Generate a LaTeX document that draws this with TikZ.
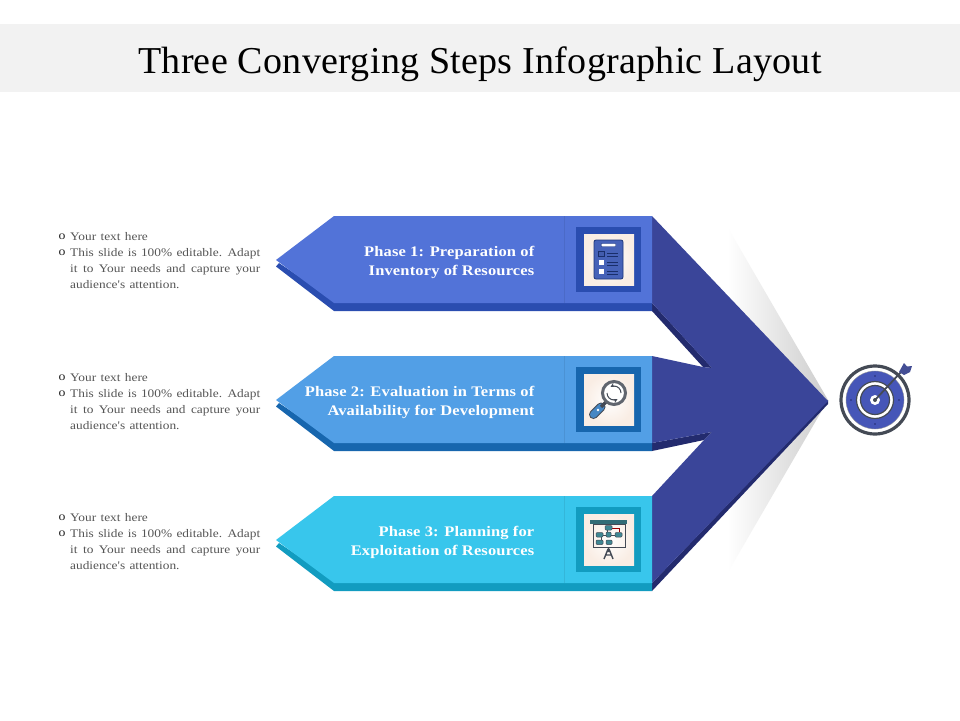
\documentclass[tikz,border=0pt]{standalone}
\usepackage{fontspec}
\setmainfont{Liberation Serif}
\newfontfamily\titlefont[LetterSpace=.8]{Liberation Serif}
\newfontfamily\phasefont[FakeStretch=1.13,LetterSpace=1,BoldFont={Liberation Serif Bold}]{Liberation Serif Bold}
\newfontfamily\bodyfont[FakeStretch=1.15,WordSpace=1.3]{Liberation Serif}
\definecolor{bandgray}{HTML}{F2F2F2}
\definecolor{bodygray}{HTML}{555555}
\definecolor{oneface}{HTML}{5273D8}
\definecolor{oneside}{HTML}{2A4DB0}
\definecolor{twoface}{HTML}{529FE6}
\definecolor{twoside}{HTML}{1766AE}
\definecolor{threeface}{HTML}{38C6EC}
\definecolor{threeside}{HTML}{129CC0}
\definecolor{bigface}{HTML}{3A4599}
\definecolor{bigside}{HTML}{232B6E}
\definecolor{cream}{HTML}{F9EDE4}
\definecolor{icondark}{HTML}{444A55}
\definecolor{targetblue}{HTML}{4656B8}
\definecolor{boardteal}{HTML}{3F8793}
\begin{document}
\begin{tikzpicture}
            [x=1pt,y=-1pt,
            Title/.style={font=\titlefont\fontsize{38}{38}\selectfont,text=black,inner sep=0pt},
            Phase/.style={font=\phasefont\fontsize{14.6}{19}\selectfont,text=white,align=right,anchor=east,inner sep=0pt},
            Body/.style={font=\bodyfont\fontsize{11.6}{16}\selectfont,text=bodygray,text width=190pt,align=justify,anchor=north west,inner sep=0pt},
            Bullet/.style={font=\bodyfont\fontsize{12}{16}\selectfont,text=black!85,inner sep=0pt},
            Board/.style={fill=boardteal,draw=icondark,line width=.5pt,rounded corners=1pt}];
            \useasboundingbox (0,0) rectangle (960,720);
            \fill[white] (0,0) rectangle (960,720);
            % title band
            \fill[bandgray] (0,24) rectangle (960,92);
            \node[Title] (title) at (480,64) {Three Converging Steps Infographic Layout};
            % soft shadow behind the big chevron
            \shade[left color=white,right color=black!20] (728,228)--(828,400)--(728,572)--cycle;
            % big chevron, side then face
            \fill[bigside] (652,303)--(712,368)--(703,367)--(652,311)--cycle;
            \fill[bigside] (652,443)--(712,432)--(704,440)--(652,451)--cycle;
            \fill[bigside] (652,583)--(652,591)--(828,404)--(828,400)--cycle;
            \fill[bigface] (652,216)--(828,401)--(652,583)--(652,496)--(704,440)--(712,432)--(652,443)
                --(652,356)--(703,367)--(712,368)--(652,303)--cycle;
            % phase 1
            \fill[oneside] (279,263)--(276,266.5)--(334,311)--(652,311)--(652,300)--(334,300)--cycle;
            \fill[oneface] (276,260)--(334,216)--(652,216)--(652,303)--(334,303)--cycle;
            \draw[oneface!92!black,thin] (564,216)--(564,303);
            \fill[oneside] (576,227) rectangle (641,292);
            \shade[inner color=white,outer color=cream] (584,234) rectangle (634,285);
            % phase 2
            \fill[twoside] (279,403)--(276,406.5)--(334,451)--(652,451)--(652,440)--(334,440)--cycle;
            \fill[twoface] (276,400)--(334,356)--(652,356)--(652,443)--(334,443)--cycle;
            \draw[twoface!92!black,thin] (564,356)--(564,443);
            \fill[twoside] (576,367) rectangle (641,432);
            \shade[inner color=white,outer color=cream] (584,374) rectangle (634,425);
            % phase 3
            \fill[threeside] (279,543)--(276,546.5)--(334,591)--(652,591)--(652,580)--(334,580)--cycle;
            \fill[threeface] (276,540)--(334,496)--(652,496)--(652,583)--(334,583)--cycle;
            \draw[threeface!92!black,thin] (564,496)--(564,583);
            \fill[threeside] (576,507) rectangle (641,572);
            \shade[inner color=white,outer color=cream] (584,514) rectangle (634,565);
            % phase labels
            \node[Phase] (p1) at (534.5,262) {Phase 1: Preparation of\\Inventory of Resources};
            \node[Phase] (p2) at (534.5,402) {Phase 2: Evaluation in Terms of\\Availability for Development};
            \node[Phase] (p3) at (534.5,542) {Phase 3: Planning for\\Exploitation of Resources};
            % left notes
            \node[Bullet] (b1a) at (62,237) {o};
            \node[Bullet] (b1b) at (62,253) {o};
            \node[Body] (n1a) at (70,232) {Your text here};
            \node[Body] (n1b) at (70,248) {This slide is 100\% editable. Adapt\linebreak it to Your needs and capture your\linebreak audience's attention.};
            \node[Bullet] (b2a) at (62,378) {o};
            \node[Bullet] (b2b) at (62,394) {o};
            \node[Body] (n2a) at (70,373) {Your text here};
            \node[Body] (n2b) at (70,389) {This slide is 100\% editable. Adapt\linebreak it to Your needs and capture your\linebreak audience's attention.};
            \node[Bullet] (b3a) at (62,518) {o};
            \node[Bullet] (b3b) at (62,534) {o};
            \node[Body] (n3a) at (70,513) {Your text here};
            \node[Body] (n3b) at (70,529) {This slide is 100\% editable. Adapt\linebreak it to Your needs and capture your\linebreak audience's attention.};
            % clipboard icon
            \draw[fill=oneface!85!black,draw=oneside!70!black,line width=.8pt,rounded corners=2pt] (594,240) rectangle (623,279);
            \draw[fill=white,draw=oneside!70!black,line width=.4pt,rounded corners=1pt] (601,243.5) rectangle (616,246.5);
            \draw[fill=oneface!80!black,draw=oneside!60!black,line width=.6pt] (598.5,251) rectangle (604,256);
            \fill[white] (599,260) rectangle (604,265);
            \fill[white] (599,269) rectangle (604,274);
            \draw[oneside!60!black,line width=.9pt] (607,253)--(618,253) (607,256)--(618,256);
            \draw[oneside!60!black,line width=.9pt] (607,262)--(618,262) (607,265)--(618,265);
            \draw[oneside!60!black,line width=.9pt] (607,271)--(618,271) (607,274)--(618,274);
            % magnifier icon
            \draw[icondark,line width=9pt,line cap=round] (593.5,414.5)--(601,407);
            \draw[twoface!85!black,line width=7pt,line cap=round] (593.5,414.5)--(601,407);
            \draw[icondark,line width=3.5pt] (601,407)--(606,402);
            \fill[white] (598,410) circle (1.3);
            \draw[fill=white,draw=icondark!85,line width=3pt] (614,393) circle (11.5);
            \draw[icondark,line width=1pt,->,>=stealth] (607,393) arc (180:60:7);
            \draw[icondark,line width=1pt,->,>=stealth] (621,393) arc (0:-120:7);
            % presentation board icon
            \draw[icondark,line width=.7pt] (593,524) rectangle (625,547);
            \fill[boardteal!80!black] (590,520) rectangle (627,524);
            \draw[icondark,line width=.6pt] (607,526)--(607,534) (597,535)--(618,535) (601,536)--(601,541);
            \draw[red!60!black,line width=.4pt] (611,528)--(619,528)--(619,532);
            \draw[Board] (605,525.5) rectangle (612,530);
            \draw[Board] (596,532.5) rectangle (603,537);
            \draw[Board] (606,532) rectangle (611,537);
            \draw[Board] (615,532.5) rectangle (622,537);
            \draw[Board] (596,540) rectangle (603,544.5);
            \draw[Board] (606,540) rectangle (612,544.5);
            \draw[icondark,line width=1.4pt] (608.5,547)--(608.5,552) (608,549)--(604,559) (609,549)--(613,559) (605,555)--(612,555);
            % target icon
            \draw[fill=white,draw=icondark,line width=3.2pt] (875,400) circle (34);
            \draw[fill=targetblue,draw=icondark!60,line width=.4pt] (875,400) circle (29);
            \draw[fill=white,draw=icondark,line width=1.2pt] (875,400) circle (18.5);
            \draw[fill=targetblue,draw=icondark,line width=1.2pt] (875,400) circle (14.5);
            \fill[bigside] (875,376) circle (.8) (875,424) circle (.8) (851,400) circle (.8) (899,400) circle (.8);
            \fill[white] (875,400) circle (5);
            \fill[icondark] (875,400) circle (2);
            \draw[icondark,line width=1.8pt] (875,400)--(901,372);
            \fill[bigface!85!gray] (899,372)--(904,363)--(907,366.5)--(912,366)--(910,372)--(904,375)--cycle;
        \end{tikzpicture}
\end{document}
